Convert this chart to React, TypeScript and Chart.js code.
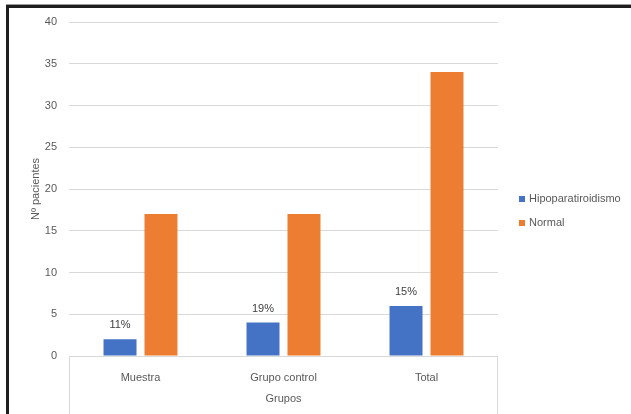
import React, { useEffect, useRef } from "react";
import { Chart, registerables } from "chart.js";

Chart.register(...registerables);

const categories = ["Muestra", "Grupo control", "Total"];
const seriesNames = ["Hipoparatiroidismo", "Normal"];
const hipoValues = [2, 4, 6];
const normalValues = [17, 17, 34];
const hipoLabels = ["11%", "19%", "15%"];
const yMax = 40;
const yStep = 5;
const yTitle = "Nº pacientes";
const xTitle = "Grupos";

const FONT = "'Liberation Sans', Arial, sans-serif";
const TEXT = "#595959";
const GRID = "#d9d9d9";
const COLORS = ["#4472C4", "#ED7D31"];

const dataLabelPlugin = {
  id: "dataLabelPlugin",
  afterDatasetsDraw(chart: any) {
    const ctx = chart.ctx;
    const meta = chart.getDatasetMeta(0);
    ctx.save();
    ctx.font = `11px ${FONT}`;
    ctx.fillStyle = "#404040";
    ctx.textAlign = "center";
    ctx.textBaseline = "middle";
    meta.data.forEach((bar: any, i: number) => {
      ctx.fillText(hipoLabels[i], bar.x, bar.y - 14);
    });
    ctx.restore();
  },
};

const axisEdgePlugin = {
  id: "axisEdgePlugin",
  afterDraw(chart: any) {
    const { ctx, chartArea } = chart;
    ctx.save();
    ctx.strokeStyle = GRID;
    ctx.lineWidth = 1;
    [chartArea.left + 0.5, chartArea.right - 0.5].forEach((x: number) => {
      ctx.beginPath();
      ctx.moveTo(x, chartArea.bottom);
      ctx.lineTo(x, chart.height);
      ctx.stroke();
    });
    ctx.restore();
  },
};

const legendPlugin = {
  id: "customLegend",
  afterDraw(chart: any) {
    const { ctx, chartArea } = chart;
    const x = chartArea.right + 21;
    const y0 = 199;
    ctx.save();
    ctx.font = `11px ${FONT}`;
    ctx.textAlign = "left";
    ctx.textBaseline = "middle";
    chart.data.datasets.forEach((ds: any, i: number) => {
      const y = y0 + i * 24;
      ctx.fillStyle = ds.backgroundColor;
      ctx.fillRect(x, y - 3, 6, 6);
      ctx.fillStyle = TEXT;
      ctx.fillText(ds.label, x + 10, y);
    });
    ctx.restore();
  },
};

export default function App() {
  const ref = useRef<HTMLCanvasElement | null>(null);

  useEffect(() => {
    if (!ref.current) return;
    const chart = new Chart(ref.current, {
      type: "bar",
      data: {
        labels: categories,
        datasets: [
          {
            label: seriesNames[0],
            data: hipoValues,
            backgroundColor: COLORS[0],
            categoryPercentage: 0.573,
            barPercentage: 0.805,
          },
          {
            label: seriesNames[1],
            data: normalValues,
            backgroundColor: COLORS[1],
            categoryPercentage: 0.573,
            barPercentage: 0.805,
          },
        ],
      },
      options: {
        responsive: false,
        animation: false,
        layout: { padding: { left: 25, right: 133, top: 22, bottom: 8 } },
        plugins: {
          legend: { display: false },
          tooltip: { enabled: false },
        },
        scales: {
          x: {
            grid: { display: false },
            border: { display: false },
            ticks: { color: TEXT, font: { family: FONT, size: 11 }, padding: 7 },
            title: {
              display: true,
              text: xTitle,
              color: TEXT,
              font: { family: FONT, size: 11 },
              padding: { top: 8, bottom: 0 },
            },
            afterFit(scale: any) {
              scale.height = 50;
            },
          },
          y: {
            min: 0,
            max: yMax,
            ticks: {
              stepSize: yStep,
              color: TEXT,
              font: { family: FONT, size: 11 },
              padding: 12,
            },
            grid: { color: GRID, drawTicks: false },
            border: { display: false },
            title: {
              display: true,
              text: yTitle,
              color: TEXT,
              font: { family: FONT, size: 11 },
              padding: { top: 4, bottom: 0 },
            },
            afterFit(scale: any) {
              scale.width = 44;
            },
          },
        },
      },
      plugins: [dataLabelPlugin, axisEdgePlugin, legendPlugin],
    });
    return () => chart.destroy();
  }, []);

  return (
    <div
      style={{
        position: "fixed",
        left: 0,
        top: 0,
        width: 631,
        height: 414,
        background: "#fff",
        overflow: "hidden",
      }}
    >
      <div
        style={{
          position: "absolute",
          left: 6,
          top: 5,
          width: 700,
          height: 500,
          borderTop: "3px solid #1e1e1e",
          borderLeft: "3px solid #1e1e1e",
          boxShadow: "0 -1px 0 #9a9a9a",
        }}
      />
      <canvas
        ref={ref}
        width={631}
        height={414}
        style={{ position: "absolute", left: 0, top: 0, width: 631, height: 414 }}
      />
    </div>
  );
}
